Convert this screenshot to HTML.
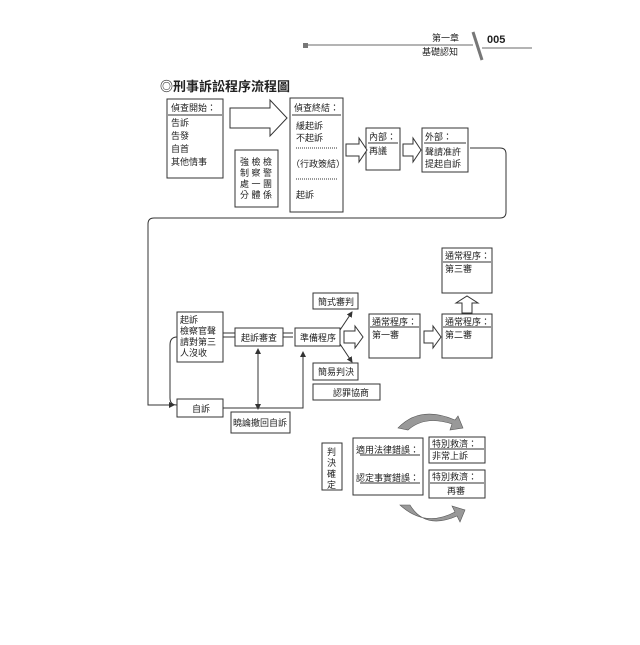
<!DOCTYPE html>
<html><head><meta charset="utf-8"><style>
body{margin:0;background:#fff;}
svg text{font-family:"Liberation Sans","Noto Sans CJK TC",sans-serif;fill:#222;}
</style></head><body>
<svg width="640" height="640" viewBox="0 0 640 640" xmlns="http://www.w3.org/2000/svg">
<defs>
<marker id="a" markerWidth="6" markerHeight="6" refX="5" refY="3" orient="auto"><path d="M0,0L6,3L0,6z" fill="#333"/></marker>
<marker id="b" markerWidth="6" markerHeight="6" refX="1" refY="3" orient="auto"><path d="M6,0L0,3L6,6z" fill="#333"/></marker>
</defs>
<rect x="303" y="43" width="5" height="5" fill="#777"/>
<line x1="308" y1="45" x2="473" y2="45" stroke="#888" stroke-width="1.2"/>
<line x1="473" y1="32" x2="482" y2="60" stroke="#777" stroke-width="3"/>
<line x1="482" y1="48" x2="532" y2="48" stroke="#888" stroke-width="1.2"/>
<text x="432" y="41" font-size="9">第一章</text>
<text x="422" y="55" font-size="9">基礎認知</text>
<text x="487" y="43" font-size="11" font-weight="bold" fill="#444">005</text>
<text x="160" y="91" font-size="13" font-weight="bold">◎刑事訴訟程序流程圖</text>
<g fill="#fff" stroke="#333" stroke-width="1">
<rect x="167" y="99" width="56" height="79"/>
<rect x="235" y="150" width="43" height="57"/>
<rect x="290" y="98" width="53" height="114"/>
<rect x="366" y="128" width="34" height="42"/>
<rect x="422" y="128" width="46" height="44"/>
<path d="M230,108H270V100L287,118L270,136V128H230Z"/>
<path d="M346,144H359V138L367,150L359,162V156H346Z"/>
<path d="M403,144H413V138L421,150L413,162V156H403Z"/>
<rect x="177" y="312" width="46" height="50"/>
<rect x="235" y="328" width="48" height="18"/>
<rect x="295" y="328" width="45" height="18"/>
<rect x="313" y="293" width="45" height="16"/>
<rect x="313" y="363" width="45" height="17"/>
<rect x="313" y="384" width="67" height="16"/>
<rect x="369" y="314" width="51" height="44"/>
<rect x="442" y="314" width="50" height="44"/>
<rect x="442" y="248" width="50" height="45"/>
<rect x="177" y="399" width="46" height="18"/>
<rect x="231" y="412" width="59" height="21"/>
<path d="M344,331H355V326L363,337L355,348V343H344Z"/>
<path d="M424,331H433V326L441,337L433,348V343H424Z"/>
<path d="M462,313V303H456L467,296L478,303H472V313Z"/>
<rect x="322" y="443" width="20" height="47"/>
<rect x="353" y="438" width="70" height="57"/>
<rect x="429" y="437" width="56" height="26"/>
<rect x="429" y="470" width="56" height="28"/>
</g>
<g stroke="#333" fill="none" stroke-width="1">
<line x1="292" y1="115" x2="341" y2="115"/>
<line x1="168" y1="115" x2="222" y2="115"/>
<line x1="368" y1="143" x2="398" y2="143"/>
<line x1="424" y1="143" x2="466" y2="143"/>
<line x1="370" y1="327" x2="419" y2="327"/>
<line x1="443" y1="327" x2="491" y2="327"/>
<line x1="443" y1="262" x2="491" y2="262"/>
<line x1="430" y1="449" x2="484" y2="449"/>
<line x1="430" y1="483" x2="484" y2="483"/>
<line x1="296" y1="148" x2="338" y2="148" stroke-dasharray="1,1"/>
<line x1="296" y1="179" x2="338" y2="179" stroke-dasharray="1,1"/>
<path d="M470,148H500Q506,148 506,154V212Q506,218 500,218H154Q148,218 148,224V405H174" marker-end="url(#a)"/>
<path d="M177,337Q170,337 170,345V398Q170,405 177,405"/>
<path d="M223,333H235M223,337H235" />
<path d="M283,333H293M283,337H293"/>
<path d="M340,330L352,312" marker-end="url(#a)"/>
<path d="M340,344L352,362" marker-end="url(#a)"/>
<line x1="258" y1="349" x2="258" y2="409" marker-start="url(#b)" marker-end="url(#a)"/>
<path d="M223,408H303V352" marker-end="url(#a)"/>
<line x1="360" y1="455" x2="420" y2="455"/>
<line x1="360" y1="483" x2="420" y2="483"/>
</g>
<path d="M398,428Q420,405 455,420L458,416L463,428L450,430L452,424Q425,415 408,430Z" fill="#999" stroke="#555" stroke-width="0.6"/>
<path d="M400,505Q425,528 455,512L452,506L465,510L460,522L457,516Q425,530 410,505Z" fill="#999" stroke="#555" stroke-width="0.6"/>
<g font-size="9">
<text x="171" y="111">偵查開始：</text>
<text x="171" y="126">告訴</text><text x="171" y="139">告發</text><text x="171" y="152">自首</text><text x="171" y="165">其他情事</text>
<text x="240" y="165">強 檢 檢</text><text x="240" y="176">制 察 警</text><text x="240" y="187">處 一 團</text><text x="240" y="198">分 體 係</text>
<text x="294" y="111">偵查終結：</text>
<text x="296" y="129">緩起訴</text><text x="296" y="141">不起訴</text>
<text x="291" y="167">（行政簽結）</text>
<text x="296" y="198">起訴</text>
<text x="369" y="140">內部：</text><text x="369" y="154">再議</text>
<text x="425" y="140">外部：</text><text x="425" y="155">聲請准許</text><text x="425" y="167">提起自訴</text>
<text x="180" y="323">起訴</text><text x="180" y="334">檢察官聲</text><text x="180" y="345">請對第三</text><text x="180" y="356">人沒收</text>
<text x="241" y="341">起訴審查</text>
<text x="300" y="341">準備程序</text>
<text x="318" y="305">簡式審判</text>
<text x="318" y="375">簡易判決</text>
<text x="333" y="396">認罪協商</text>
<text x="372" y="325">通常程序：</text><text x="372" y="338">第一審</text>
<text x="445" y="325">通常程序：</text><text x="445" y="338">第二審</text>
<text x="445" y="259">通常程序：</text><text x="445" y="272">第三審</text>
<text x="192" y="412">自訴</text>
<text x="233" y="426">曉論撤回自訴</text>
<text x="327" y="455">判</text><text x="327" y="466">決</text><text x="327" y="477">確</text><text x="327" y="488">定</text>
<text x="356" y="453">適用法律錯誤：</text>
<text x="356" y="481">認定事實錯誤：</text>
<text x="432" y="447">特別救濟：</text><text x="432" y="459">非常上訴</text>
<text x="432" y="480">特別救濟：</text><text x="447" y="494">再審</text>
</g>
</svg>
</body></html>
